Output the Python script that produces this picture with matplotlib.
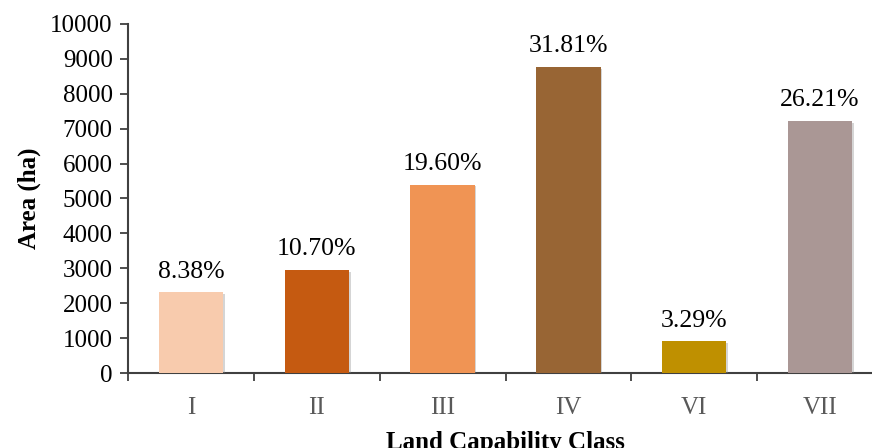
import matplotlib
matplotlib.use("Agg")
import matplotlib.pyplot as plt
import matplotlib.patheffects as pe

categories = ["I", "II", "III", "IV", "VI", "VII"]
areas = [2310, 2950, 5400, 8765, 907, 7222]
pct_labels = ["8.38%", "10.70%", "19.60%", "31.81%", "3.29%", "26.21%"]
colors = ["#F8CBAD", "#C55A11", "#F09454", "#986534", "#BF9000", "#AA9795"]

plt.rcParams['font.family'] = ['Liberation Serif', 'DejaVu Serif']

fig = plt.figure(figsize=(8.72, 4.48), dpi=100)
ax = fig.add_axes([128/872, 75/448, 755/872, 349/448])

x = list(range(len(categories)))
bars = ax.bar(x, areas, width=0.51, color=colors, zorder=3)
for b in bars:
    b.set_path_effects([pe.SimplePatchShadow(offset=(1.2, -1.2), shadow_rgbFace='#888888', alpha=0.35), pe.Normal()])

for xi, v, lab in zip(x, areas, pct_labels):
    ax.annotate(lab, (xi, v), xytext=(0, 7), textcoords='offset points',
                ha='center', va='bottom', fontsize=18.5, color='black')

ax.set_xlim(-0.5, len(categories) - 0.5)
ax.set_ylim(0, 10000)
ax.set_yticks(range(0, 10001, 1000))
ax.set_xticks(x)
ax.set_xticklabels(categories)
ax.set_xticks([i - 0.5 for i in range(len(categories) + 1)], minor=True)

ax.tick_params(axis='y', which='major', direction='out', length=6, width=1.3, colors='#404040', labelsize=18, labelcolor='black', pad=5)
ax.tick_params(axis='x', which='major', length=0, labelsize=18, labelcolor='#595959', pad=17)
ax.tick_params(axis='x', which='minor', direction='out', length=6, width=1.3, colors='#404040')

for s in ['top', 'right']:
    ax.spines[s].set_visible(False)
for s in ['left', 'bottom']:
    ax.spines[s].set_color('#404040')
    ax.spines[s].set_linewidth(1.5)

ax.set_ylabel("Area (ha)", fontsize=18, fontweight='bold', labelpad=7)
ax.set_xlabel("Land Capability Class", fontsize=18, fontweight='bold', labelpad=9)

fig.savefig("out.png", dpi=100)
